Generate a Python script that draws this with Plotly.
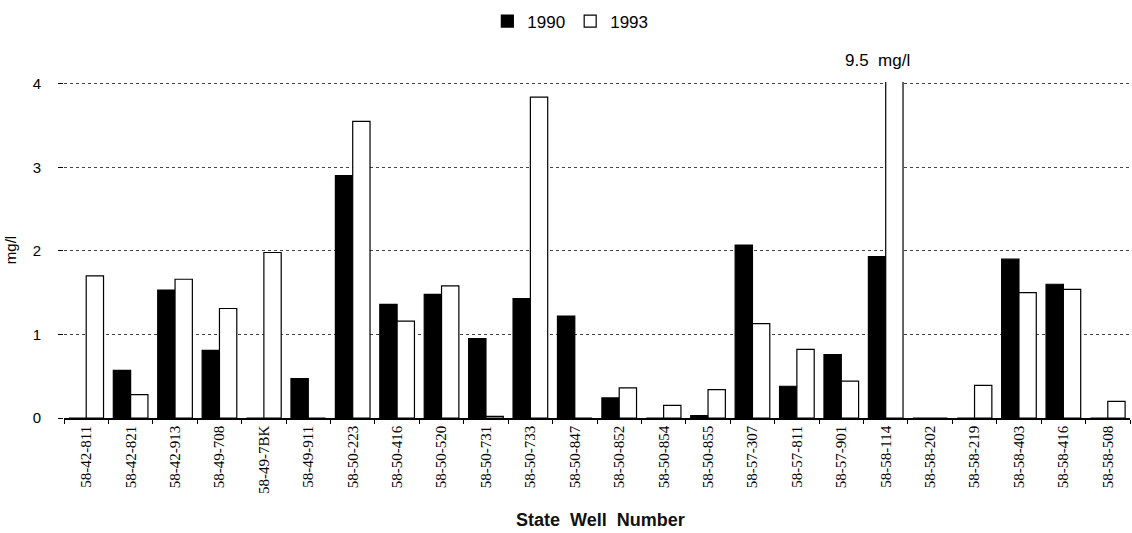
import plotly.graph_objects as go

# State well numbers along the x axis
wells = [
    "58-42-811", "58-42-821", "58-42-913", "58-49-708", "58-49-7BK", "58-49-911",
    "58-50-223", "58-50-416", "58-50-520", "58-50-731", "58-50-733", "58-50-847",
    "58-50-852", "58-50-854", "58-50-855", "58-57-307", "58-57-811", "58-57-901",
    "58-58-114", "58-58-202", "58-58-219", "58-58-403", "58-58-416", "58-58-508",
]

# Concentrations in mg/l
conc_1990 = [0.0, 0.57, 1.53, 0.81, 0.0, 0.47,
             2.90, 1.36, 1.48, 0.95, 1.43, 1.22,
             0.24, 0.0, 0.03, 2.07, 0.38, 0.76,
             1.93, 0.0, 0.0, 1.90, 1.60, 0.0]
conc_1993 = [1.70, 0.28, 1.66, 1.31, 1.98, 0.0,
             3.55, 1.16, 1.58, 0.02, 3.84, 0.0,
             0.36, 0.15, 0.34, 1.13, 0.82, 0.44,
             9.5, 0.0, 0.39, 1.50, 1.54, 0.20]

y_ticks = [0, 1, 2, 3, 4]

sans = "Liberation Sans, Arial, sans-serif"
serif = "Liberation Serif, Times New Roman, serif"

fig = go.Figure()
fig.add_trace(go.Bar(
    x=wells, y=conc_1990, name="1990",
    marker=dict(color="black", line=dict(color="black", width=1.2)),
))
fig.add_trace(go.Bar(
    x=wells, y=conc_1993, name="1993",
    marker=dict(color="white", line=dict(color="black", width=1.2)),
))

# The off-scale 1993 value is written above its clipped bar
peak_idx = max(range(len(conc_1993)), key=lambda i: conc_1993[i])
fig.add_annotation(
    x=wells[peak_idx], y=y_ticks[-1], xref="x", yref="y",
    text=f"{conc_1993[peak_idx]:g}\u00a0\u00a0mg/l", showarrow=False,
    yanchor="bottom", yshift=12, xshift=-8,
    font=dict(family=sans, size=17, color="black"),
)

# Axis title for the wells
fig.add_annotation(
    x=0.503, y=-0.305, xref="paper", yref="paper",
    text="<b>State\u00a0\u00a0Well\u00a0\u00a0Number</b>", showarrow=False,
    yanchor="middle", font=dict(family=sans, size=18, color="#111"),
)

fig.update_layout(
    width=1132, height=533,
    margin=dict(l=64, r=2, t=82, b=115),
    paper_bgcolor="white", plot_bgcolor="white",
    barmode="group", bargap=0.22, bargroupgap=0.0,
    font=dict(family=sans, color="black"),
    legend=dict(
        orientation="h", x=0.475, xanchor="center", y=1.18, yanchor="middle",
        font=dict(family=sans, size=17, color="black"),
        itemwidth=30, traceorder="normal",
    ),
    xaxis=dict(
        type="category",
        showline=True, linecolor="black", linewidth=1.5,
        ticks="outside", tickson="boundaries", ticklen=4, tickcolor="black",
        tickangle=-90, tickfont=dict(family=serif, size=15, color="black"),
        showgrid=False, range=[-0.5, len(wells) - 0.5],
    ),
    yaxis=dict(
        range=[0, 4.02], tickvals=y_ticks,
        ticks="outside", ticklen=5, tickcolor="black",
        ticklabelstandoff=14,
        tickfont=dict(family=sans, size=15, color="black"),
        showgrid=True, gridcolor="#444", griddash="dot", gridwidth=1,
        zeroline=False, showline=False,
        title=dict(text="mg/l", font=dict(family=sans, size=15, color="black"), standoff=12),
    ),
)

fig.write_html("out.html")
